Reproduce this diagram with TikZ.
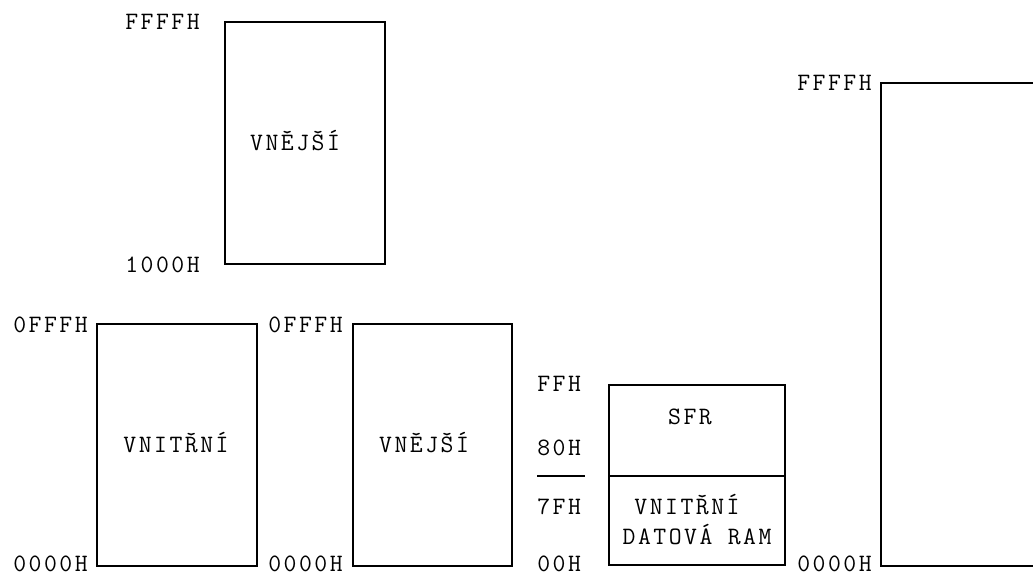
\documentclass[tikz,border=0pt]{standalone}
\usepackage{fontspec}
\setmonofont[LetterSpace=10]{Latin Modern Mono}
\begin{document}
\begin{tikzpicture}[x=0.75pt,y=-0.75pt,
  lbl/.style={font=\ttfamily\fontsize{18.75pt}{22pt}\selectfont, inner sep=0pt, text height=11.5pt, text depth=0pt},
  blk/.style={draw=black, line width=1.5pt},
  rl/.style={lbl, anchor=east},
  ll/.style={lbl, anchor=west}]
\useasboundingbox (0,0) rectangle (1033,575);
% upper external block
\draw[blk] (225,22) rectangle (385,264);
\node[lbl] (t1) at (295,143) {VNĚJŠÍ};
\node[rl] (a1) at (200,22) {FFFFH};
\node[rl] (a2) at (200,265) {1000H};
% internal block
\draw[blk] (97,324) rectangle (257,566);
\node[lbl] (t2) at (176,445) {VNITŘNÍ};
\node[rl] (a3) at (88,325) {0FFFH};
\node[rl] (a4) at (88,564) {0000H};
% external block
\draw[blk] (353,324) rectangle (512,566);
\node[lbl] (t3) at (424,445) {VNĚJŠÍ};
\node[rl] (a5) at (343,325) {0FFFH};
\node[rl] (a6) at (343,564) {0000H};
% data RAM block
\draw[blk] (609,385) rectangle (785,565);
\draw[blk] (609,476) -- (785,476);
\node[lbl] (t4) at (690,417) {SFR};
\node[lbl] (t5) at (687,507) {VNITŘNÍ};
\node[lbl] (t6) at (697,537) {DATOVÁ RAM};
\node[ll] (b1) at (537,384) {FFH};
\node[ll] (b2) at (537,448) {80H};
\draw[line width=1.5pt] (537,476) -- (585,476);
\node[ll] (b3) at (537,507) {7FH};
\node[ll] (b4) at (537,564) {00H};
% big right block (cut off)
\draw[blk] (1034,83) -- (881,83) -- (881,566) -- (1034,566);
\node[rl] (c1) at (872,83) {FFFFH};
\node[rl] (c2) at (872,564) {0000H};
\end{tikzpicture}
\end{document}
